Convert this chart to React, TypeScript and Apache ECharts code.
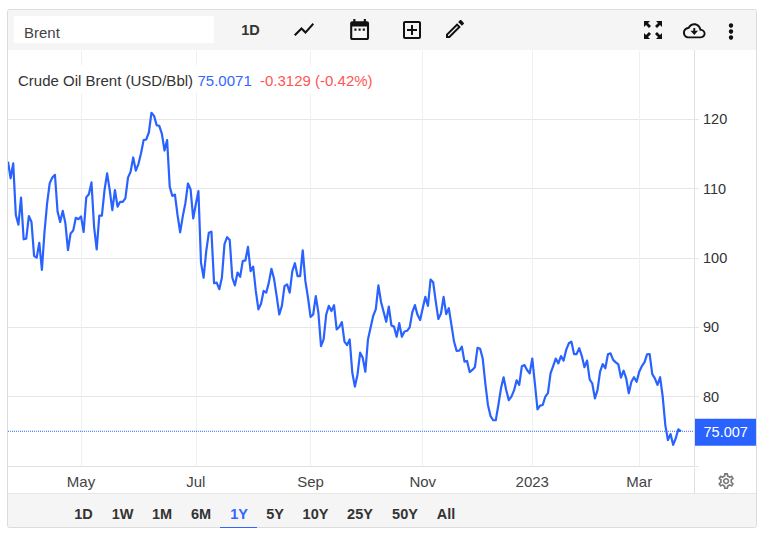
import React, { useEffect, useRef } from "react";
import * as echarts from "echarts";

const startDate = "2022-03-23";
const holidays = ["2022-11-24", "2022-12-26", "2023-01-02"];
const pointCount = 264;
const monthLabels: Record<string, string> = {
  "2022-05": "May", "2022-07": "Jul", "2022-09": "Sep", "2022-11": "Nov", "2023-01": "2023", "2023-03": "Mar",
};
const yTicks = [80, 90, 100, 110, 120];
const lastPrice = 75.0071;
const lastPriceText = "75.007";
const priceText = "75.0071";
const changeText = "-0.3129 (-0.42%)";
const seriesName = "Crude Oil Brent (USD/Bbl)";
const rangeButtons = ["1D", "1W", "1M", "6M", "1Y", "5Y", "10Y", "25Y", "50Y", "All"];

const valuesSpring = [
  113.9, 111.5, 113.65, 106.2, 104.8, 108.7, 102.7, 102.8, 106.05, 105.2, 100.3, 100.05, 102.2, 98.3,
  103.8, 107.9, 110.8, 111.6, 112.0, 106.7, 105.2, 106.8, 105, 101.15, 103.55, 103.95, 105.8, 105.6,
  106, 103.75, 108.75, 109.2, 110.9, 104.5, 101.25, 106.1, 106.1, 109.8, 112.2, 109.8, 106.9, 109.8,
  107.4, 108.1, 108.1, 108.6, 111.6, 112.45, 114.5, 112.6, 113.55, 115.1, 117, 117.1, 118.1, 120.95,
  120.5, 119.15, 119.05, 117.9, 115.5, 117, 110.3, 108.95, 109.15, 106.2, 103.7, 106, 107.9, 110.75,
];
const valuesSummer = [
  109.9, 105.7, 107.75, 109.65, 99.3, 97.15, 101, 103.65, 103.8, 96.35, 96.45, 95.5, 97.15, 102, 103,
  102.6, 97.15, 96.05, 97.9, 97.3, 99.55, 99.65, 101.6, 98.1, 98.75, 95.25, 92.6, 93.4, 95.25, 95,
  96.45, 98.45, 97, 94.5, 91.85, 93.1, 95.95, 96.2, 95, 98.1, 99.25, 97.4, 97.4, 101.1, 96.7, 94.3,
  91.5, 91.85, 94.5, 92.1, 87.3, 88.25, 91.85, 93.1, 92.35, 93.2, 89.7, 90.05, 90.75, 87.95, 87.45,
  88.25, 83.45, 81.45, 83.2, 86.35, 85.6, 83.6, 88.25, 89.95, 91.65, 92.6, 96.05,
];
const valuesAutumn = [
  93.7, 92.25, 90.8, 93, 90.25, 90.1, 88.65, 90.6, 88.65, 89.4, 89.5, 90, 92.15, 93.2, 91.8, 91.05,
  92.75, 94.4, 93.1, 96.9, 96.5, 93.7, 91.2, 92, 94.4, 91.9, 92.75, 90.35, 87.95, 86.6, 86.65, 87.2,
  85.05, 85.15, 83.55, 83.85, 84.25, 87.05, 86.9, 85.5, 81.9, 78.8, 77.2, 76.6, 76.6, 78.8, 81.2, 82.8,
  80.95, 79.5, 80, 80.9, 82.35, 81.7,
];
const valuesWinter = [
  84.4, 84.55, 83.85, 83.35, 85.5, 81.9, 78.15, 78.7, 78.8, 80, 80.5, 83.35, 84.4, 85.5, 84.8, 85.85,
  85.2, 86.75, 87.7, 87.95, 86.15, 86.15, 87, 85.85, 84.25, 85.2, 82.5, 81.9, 79.75, 80.95, 83.6, 84.7,
  84.1, 86.1, 86.25, 85.3, 84.95, 84.65, 82.75, 83.75, 82.65, 80.5, 82.15, 82.8, 82.15, 83.6, 84.4,
  84.95, 86.1, 86.15, 83.25, 82.65, 81.7, 82.8, 80, 75.9, 73.75, 74.6, 73.05, 74, 75.3, 75.0071,
];

const pad = (n: number) => String(n).padStart(2, "0");
function buildCategories(): string[] {
  const out: string[] = [];
  const d = new Date(startDate + "T12:00:00Z");
  while (out.length < pointCount) {
    const s = `${d.getUTCFullYear()}-${pad(d.getUTCMonth() + 1)}-${pad(d.getUTCDate())}`;
    const wd = d.getUTCDay();
    if (wd !== 0 && wd !== 6 && !holidays.includes(s)) out.push(s);
    d.setUTCDate(d.getUTCDate() + 1);
  }
  return out;
}
const categories = buildCategories();
const values = [...valuesSpring, ...valuesSummer, ...valuesAutumn, ...valuesWinter];
const lastPriceLine = categories.map(() => lastPrice);

const tickDates = new Set<string>();
{
  const seen = new Set<string>();
  for (const c of categories) {
    const m = c.slice(0, 7);
    if (!seen.has(m)) {
      seen.add(m);
      if (monthLabels[m]) tickDates.add(c);
    }
  }
}

const FONT = '"Liberation Sans", Arial, sans-serif';
const BLUE = "#2962ff";
const INK = "#333333";

const ICONS: Record<string, string> = {
  brLine: "M3.5 18.49l6-6.01 4 4L22 6.92l-1.41-1.41-7.09 7.97-4-4L2 16.99z",
  brCal: "M19 4h-1V2h-2v2H8V2H6v2H5c-1.1 0-2 .9-2 2v14c0 1.1.9 2 2 2h14c1.1 0 2-.9 2-2V6c0-1.1-.9-2-2-2zm0 16H5V9h14v11zM7 11h2v2H7zM11 11h2v2h-2zM15 11h2v2h-2z",
  brAdd: "M19 3H5c-1.1 0-2 .9-2 2v14c0 1.1.9 2 2 2h14c1.1 0 2-.9 2-2V5c0-1.1-.9-2-2-2zm0 16H5V5h14v14zM11 17h2v-4h4v-2h-4V7h-2v4H7v2h4z",
  brEdit: "M3 17.25V21h3.75L17.81 9.94l-3.75-3.75L3 17.25zM5.92 19H5v-.92l9.06-9.06.92.92L5.92 19zM20.71 5.63l-2.34-2.34c-.2-.2-.45-.29-.71-.29s-.51.1-.7.29l-1.83 1.83 3.75 3.75 1.83-1.83c.39-.39.39-1.02 0-1.41z",
  brFull: "M0 0h6L4 2l3 3-2 2-3-3-2 2zM18 0v6l-2-2-3 3-2-2 3-3-2-2zM0 18v-6l2 2 3-3 2 2-3 3 2 2zM18 18h-6l2-2-3-3 2-2 3 3 2-2z",
  brCloud: "M19.35 10.04C18.67 6.59 15.64 4 12 4 9.11 4 6.6 5.64 5.35 8.04 2.34 8.36 0 10.91 0 14c0 3.31 2.69 6 6 6h13c2.76 0 5-2.24 5-5 0-2.64-2.05-4.78-4.65-4.96zM19 18H6c-2.21 0-4-1.79-4-4 0-2.05 1.53-3.76 3.56-3.97l1.07-.11.5-.95C8.08 7.14 9.94 6 12 6c2.62 0 4.88 1.86 5.39 4.43l.3 1.5 1.53.11c1.56.1 2.78 1.41 2.78 2.96 0 1.65-1.35 3-3 3z",
  brArrow: "M11 9h2v3h3l-4 4.5L8 12h3z",
  brGear: "M19.43 12.98c.04-.32.07-.64.07-.98 0-.34-.03-.66-.07-.98l2.11-1.65c.19-.15.24-.42.12-.64l-2-3.46c-.09-.16-.26-.25-.44-.25-.06 0-.12.01-.17.03l-2.49 1c-.52-.4-1.08-.73-1.69-.98l-.38-2.65C14.46 2.18 14.25 2 14 2h-4c-.25 0-.46.18-.49.42l-.38 2.65c-.61.25-1.17.59-1.69.98l-2.49-1c-.06-.02-.12-.03-.18-.03-.17 0-.34.09-.43.25l-2 3.46c-.13.22-.07.49.12.64l2.11 1.65c-.04.32-.07.65-.07.98 0 .33.03.66.07.98l-2.11 1.65c-.19.15-.24.42-.12.64l2 3.46c.09.16.26.25.44.25.06 0 .12-.01.17-.03l2.49-1c.52.4 1.08.73 1.69.98l.38 2.65c.03.24.24.42.49.42h4c.25 0 .46-.18.49-.42l.38-2.65c.61-.25 1.17-.59 1.69-.98l2.49 1c.06.02.12.03.18.03.17 0 .34-.09.43-.25l2-3.46c.12-.22.07-.49-.12-.64l-2.11-1.65zm-1.98-1.71c.04.31.05.52.05.73 0 .21-.02.43-.05.73l-.14 1.13.89.7 1.08.84-.7 1.21-1.27-.51-1.04-.42-.9.68c-.43.32-.84.56-1.25.73l-1.06.43-.16 1.13-.2 1.35h-1.4l-.19-1.35-.16-1.13-1.06-.43c-.43-.18-.83-.41-1.23-.71l-.91-.7-1.06.43-1.27.51-.7-1.21 1.08-.84.89-.7-.14-1.13c-.03-.31-.05-.54-.05-.74s.02-.43.05-.73l.14-1.13-.89-.7-1.08-.84.7-1.21 1.27.51 1.04.42.9-.68c.43-.32.84-.56 1.25-.73l1.06-.43.16-1.13.2-1.35h1.39l.19 1.35.16 1.13 1.06.43c.43.18.83.41 1.23.71l.91.7 1.06-.43 1.27-.51.7 1.21-1.07.85-.89.7.14 1.13zM12 8c-2.21 0-4 1.79-4 4s1.79 4 4 4 4-1.79 4-4-1.79-4-4-4zm0 6c-1.1 0-2-.9-2-2s.9-2 2-2 2 .9 2 2-.9 2-2 2z",
};
for (const [name, d] of Object.entries(ICONS)) {
  echarts.graphic.registerShape(name, echarts.graphic.extendPath(d as any, {}) as any);
}

const rangeCenters = [83.5, 122.5, 162, 201, 239, 275, 315.5, 360, 405, 446];

function text(x: number, y: number, t: string, fill: string, extra: any = {}) {
  return {
    type: "text", x, y, z: 30,
    style: { text: t, fill, font: `15px ${FONT}`, textAlign: "left", textVerticalAlign: "middle", ...extra },
  };
}
function icon(type: string, x: number, y: number, s: number, fill = "#111111") {
  return { type, x, y, scaleX: s, scaleY: s, z: 30, style: { fill } };
}

export default function App() {
  const ref = useRef<HTMLDivElement>(null);
  useEffect(() => {
    const chart = echarts.init(ref.current!, undefined, { renderer: "svg" });
    chart.setOption({
      animation: false,
      backgroundColor: "#ffffff",
      textStyle: { fontFamily: FONT },
      grid: { left: 8, top: 50, width: 686, height: 416, containLabel: false },
      xAxis: {
        type: "category",
        data: categories,
        boundaryGap: false,
        axisLine: { show: true, lineStyle: { color: "#e0e0e0", width: 1 } },
        axisTick: { show: false },
        axisLabel: {
          interval: (_: number, v: string) => tickDates.has(v),
          formatter: (v: string) => monthLabels[v.slice(0, 7)] ?? "",
          color: "#444444", fontSize: 15, fontFamily: FONT, margin: 8, hideOverlap: false,
        },
        splitLine: {
          show: true,
          interval: (_: number, v: string) => tickDates.has(v),
          lineStyle: { color: "#eef1f4", width: 1 },
        },
      },
      yAxis: {
        type: "value",
        position: "right",
        min: 70,
        max: 130,
        interval: 10,
        axisLine: { show: true, lineStyle: { color: "#e0e0e0", width: 1 } },
        axisTick: { show: true, length: 5, lineStyle: { color: "#e6e6e6" } },
        axisLabel: {
          formatter: (v: number) => (yTicks.includes(v) ? String(v) : ""),
          color: "#333333", fontSize: 14.5, fontFamily: FONT, margin: 9,
        },
        splitLine: { show: true, lineStyle: { color: "#e6e6e6", width: 1 } },
      },
      series: [
        {
          type: "line",
          name: "Last price",
          data: lastPriceLine,
          showSymbol: false,
          z: 4,
          lineStyle: { color: BLUE, type: [1, 1], width: 1 },
          itemStyle: { color: BLUE },
        },
        {
          type: "line",
          name: seriesName,
          data: values,
          showSymbol: false,
          smooth: false,
          z: 5,
          lineStyle: { color: BLUE, width: 2.2, join: "round" },
          itemStyle: { color: BLUE },
          markLine: {
            silent: true,
            symbol: "none",
            animation: false,
            lineStyle: { color: "rgba(0,0,0,0)", width: 1 },
            label: {
              show: true,
              position: "end",
              distance: 1,
              offset: [0, 1],
              formatter: lastPriceText,
              color: "#ffffff",
              fontSize: 14.5,
              fontFamily: FONT,
              backgroundColor: BLUE,
              padding: [7, 8.5, 5, 8.5],
            },
            data: [{ yAxis: lastPrice }],
          },
        },
      ],
      graphic: {
        elements: [
          { type: "rect", z: 20, shape: { x: 8, y: 10, width: 748, height: 40 }, style: { fill: "#f5f5f5" } },
          { type: "rect", z: 20, shape: { x: 8, y: 50, width: 748, height: 1 }, style: { fill: "#ffffff" } },
          { type: "rect", z: 20, shape: { x: 14, y: 16, width: 200, height: 27 }, style: { fill: "#ffffff" } },
          { type: "rect", z: 20, shape: { x: 8, y: 65, width: 367, height: 28 }, style: { fill: "#ffffff" } },
          { type: "rect", z: 20, shape: { x: 8, y: 493, width: 748, height: 34 }, style: { fill: "#f5f5f5" } },
          { type: "line", z: 21, shape: { x1: 8, y1: 493.5, x2: 756, y2: 493.5 }, style: { stroke: "#e6e6e6", lineWidth: 1 } },
          { type: "line", z: 21, shape: { x1: 694.5, y1: 468, x2: 694.5, y2: 493 }, style: { stroke: "#e0e0e0", lineWidth: 1 } },
          { type: "line", z: 21, shape: { x1: 694.5, y1: 50, x2: 694.5, y2: 52 }, style: { stroke: "#e0e0e0", lineWidth: 1 } },
          { type: "rect", z: 25, shape: { x: 7.5, y: 9.5, width: 749, height: 518, r: 2 }, style: { fill: "none", stroke: "#dcdcdc", lineWidth: 1 } },
          text(24, 32, "Brent", "#444444"),
          text(250.5, 30, "1D", INK, { font: `bold 14.5px ${FONT}`, textAlign: "center" }),
          icon("brLine", 292, 17.5, 1),
          icon("brCal", 347, 17, 1.05),
          icon("brAdd", 400, 18, 1),
          icon("brEdit", 443, 17, 1),
          icon("brFull", 644, 21, 1),
          icon("brCloud", 683, 19.5, 0.94),
          icon("brArrow", 683, 19.5, 0.94),
          { type: "circle", z: 30, shape: { cx: 731, cy: 25.5, r: 2.2 }, style: { fill: "#111111" } },
          { type: "circle", z: 30, shape: { cx: 731, cy: 31.5, r: 2.2 }, style: { fill: "#111111" } },
          { type: "circle", z: 30, shape: { cx: 731, cy: 37.5, r: 2.2 }, style: { fill: "#111111" } },
          text(18, 80, seriesName, INK),
          text(197.5, 80, priceText, "#3366ff"),
          text(260, 80, changeText, "#ff5555"),
          icon("brGear", 716.5, 471.5, 0.8, "#777777"),
          ...rangeButtons.map((b, i) =>
            text(rangeCenters[i], 513.5, b, b === "1Y" ? "#3366ff" : INK, { font: `bold 14.5px ${FONT}`, textAlign: "center" })
          ),
          { type: "line", z: 30, shape: { x1: 220, y1: 527.5, x2: 257, y2: 527.5 }, style: { stroke: "#3366ff", lineWidth: 1 } },
        ],
      },
    });
    return () => chart.dispose();
  }, []);
  return <div ref={ref} style={{ position: "absolute", left: 0, top: 0, width: 770, height: 542 }} />;
}
